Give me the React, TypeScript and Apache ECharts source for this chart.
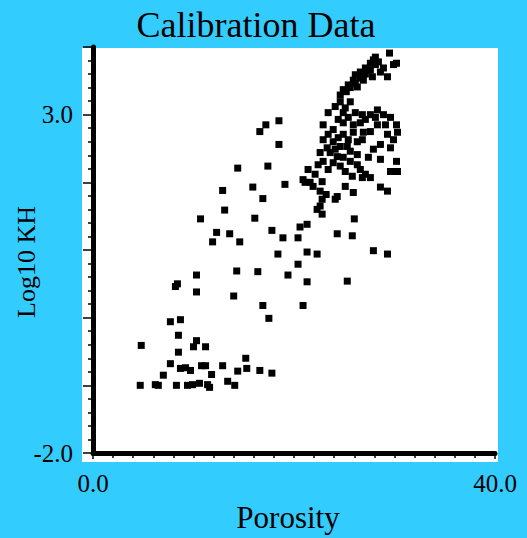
import React, { useEffect, useRef } from "react";
import * as echarts from "echarts";

const titleText = "Calibration Data";
const xAxisName = "Porosity";
const yAxisName = "Log10 KH";
const xLabels = ["0.0", "40.0"];
const yLabels = ["-2.0", "3.0"];

// [porosity, log10 KH]
const lowCluster: number[][] = [
  [4.7, -1.0], [4.8, -0.41], [6.2, -0.99], [6.5, -1.0], [7.0, -0.85], [7.7, -0.68],
  [7.7, -0.06], [8.7, -0.03], [8.3, -1.0], [8.5, -0.26], [8.5, -0.51], [8.7, -0.75],
  [9.2, -0.74], [9.7, -0.78], [9.4, -1.0], [9.9, -0.99], [10.6, -0.97], [11.4, -0.99],
  [11.6, -1.03], [10.8, -0.71], [11.2, -0.71], [11.8, -0.84], [12.9, -0.71], [10.3, -0.34],
  [10.0, -0.43], [11.2, -0.43], [13.4, -0.94], [14.1, -1.0], [14.4, -0.79], [15.3, -0.75],
  [15.2, -0.6], [16.6, -0.78], [17.8, -0.82],
];

const midScatter: number[][] = [
  [8.4, 0.5], [8.2, 0.46], [10.3, 0.38], [10.3, 0.63], [14.0, 0.32], [14.3, 0.69],
  [16.4, 0.68], [16.9, 0.18], [17.5, -0.01], [20.9, 0.18], [19.4, 0.63], [21.3, 0.53],
  [20.4, 0.79], [18.4, 0.94], [21.3, 0.97], [22.3, 0.94], [25.3, 0.54], [27.9, 0.99],
  [29.3, 0.94], [24.3, 1.24], [25.8, 1.21], [26.0, 1.46], [20.6, 1.34], [20.4, 1.18],
  [21.3, 1.38], [18.9, 1.18], [17.8, 1.29], [14.6, 1.12], [13.6, 1.24], [12.3, 1.26],
  [11.9, 1.12], [10.7, 1.46], [16.1, 1.47], [13.1, 1.59], [12.9, 1.88], [15.9, 1.93],
  [16.9, 1.76], [19.1, 1.97], [14.4, 2.21], [17.4, 2.24], [18.5, 2.56], [18.5, 2.91],
  [17.2, 2.85], [16.6, 2.75],
];

const denseCluster: number[][] = [
  [21.4, 2.19], [21.1, 2.0], [20.9, 2.04], [21.6, 2.0], [21.9, 1.94], [22.8, 2.01],
  [22.6, 1.87], [22.8, 1.75], [22.6, 1.65], [22.3, 1.6], [22.8, 1.53], [24.3, 1.79],
  [24.1, 1.75], [25.1, 1.94], [25.9, 1.85], [28.6, 1.93], [29.3, 1.87], [29.6, 2.16],
  [30.3, 2.16], [30.2, 2.31], [26.6, 2.19], [27.1, 2.12], [27.6, 2.07], [26.8, 2.07],
  [27.4, 2.37], [28.6, 2.34], [27.9, 2.49], [28.6, 2.56], [29.6, 2.51], [30.3, 2.74],
  [29.9, 2.63], [30.2, 2.85], [29.1, 2.85], [28.3, 2.85], [28.9, 3.0], [27.6, 3.0],
  [26.8, 3.0], [26.1, 3.03], [24.9, 3.03], [23.4, 3.03], [22.9, 2.85], [24.9, 2.88],
  [25.9, 2.85], [26.6, 2.88], [23.9, 2.78], [24.9, 2.71], [25.9, 2.74], [26.9, 2.74],
  [27.6, 2.75], [22.9, 2.63], [23.9, 2.6], [24.6, 2.53], [25.3, 2.53], [26.3, 2.6],
  [22.6, 2.44], [23.6, 2.44], [24.3, 2.38], [24.9, 2.37], [25.6, 2.31], [22.9, 2.31],
  [23.9, 2.29], [24.6, 2.24], [26.3, 2.26], [24.6, 3.19], [25.6, 3.19],
  [24.4, 2.93], [25.4, 2.96], [27.1, 2.93], [28.1, 2.96], [23.4, 2.71], [24.4, 2.66],
  [25.4, 2.63], [26.8, 2.63], [23.3, 2.51], [24.1, 2.49], [25.6, 2.46], [26.3, 2.41],
  [23.4, 2.19], [25.1, 2.16], [25.8, 2.09], [22.4, 2.26], [22.1, 2.12], [28.3, 3.07],
  [29.6, 2.96], [29.3, 2.71], [24.1, 3.12], [25.1, 3.1], [23.2, 1.82],
];

const topCluster: number[][] = [
  [29.5, 3.91], [30.2, 3.76], [29.9, 3.74], [28.1, 3.85], [27.6, 3.76], [27.1, 3.69],
  [26.6, 3.63], [26.1, 3.59], [25.9, 3.51], [25.4, 3.44], [24.9, 3.37], [28.6, 3.63],
  [29.3, 3.56], [27.8, 3.56], [26.9, 3.51], [26.3, 3.41], [27.4, 3.66], [28.1, 3.74],
  [25.6, 3.4], [26.1, 3.47], [26.6, 3.54], [27.1, 3.6], [27.6, 3.66], [27.9, 3.81],
  [28.4, 3.78], [28.9, 3.69], [25.2, 3.34], [24.6, 3.29],
];

const allPoints = [...lowCluster, ...midScatter, ...denseCluster, ...topCluster];

const SERIF = '"Liberation Serif", "Times New Roman", serif';

export default function App() {
  const ref = useRef<HTMLDivElement>(null);
  useEffect(() => {
    document.body.style.margin = "0";
    if (!ref.current) return;
    const chart = echarts.init(ref.current, undefined, { renderer: "svg" });
    chart.setOption({
      animation: false,
      backgroundColor: "#33ccff",
      grid: { left: 93, right: 32, top: 47, bottom: 85, containLabel: false },
      xAxis: {
        type: "value",
        min: 0,
        max: 40,
        interval: 40,
        splitLine: { show: false },
        axisLine: { show: true, onZero: false, lineStyle: { color: "#000", width: 5 } },
        axisTick: { show: true, length: 6, lineStyle: { color: "#000", width: 1.5 } },
        minorTick: { show: true, splitNumber: 20, length: 5, lineStyle: { color: "#000", width: 1.5 } },
        axisLabel: {
          margin: 18,
          fontFamily: SERIF,
          fontSize: 25,
          color: "#000",
          formatter: (v: number) => (v === 0 ? xLabels[0] : v === 40 ? xLabels[1] : ""),
        },
      },
      yAxis: {
        type: "value",
        min: -2,
        max: 4,
        interval: 1,
        splitLine: { show: false },
        axisLine: { show: true, onZero: false, lineStyle: { color: "#000", width: 5 } },
        axisTick: { show: true, length: 10, lineStyle: { color: "#000", width: 1.5 } },
        minorTick: { show: true, splitNumber: 5, length: 5, lineStyle: { color: "#000", width: 1.5 } },
        axisLabel: {
          margin: 20,
          fontFamily: SERIF,
          fontSize: 25,
          color: "#000",
          formatter: (v: number) => (v === -2 ? yLabels[0] : v === 3 ? yLabels[1] : ""),
        },
      },
      graphic: {
        elements: [
          {
            type: "rect",
            z: -10,
            shape: { x: 82, y: 48, width: 416, height: 414 },
            style: { fill: "#ffffff" },
            silent: true,
          },
          {
            type: "text",
            x: 256,
            y: 25,
            style: {
              text: titleText,
              font: `36px ${SERIF}`,
              fill: "#000",
              textAlign: "center",
              textVerticalAlign: "middle",
            },
          },
          {
            type: "text",
            x: 288,
            y: 517,
            style: {
              text: xAxisName,
              font: `31px ${SERIF}`,
              fill: "#000",
              textAlign: "center",
              textVerticalAlign: "middle",
            },
          },
          {
            type: "text",
            x: 26,
            y: 262,
            rotation: Math.PI / 2,
            style: {
              text: yAxisName,
              font: `26px ${SERIF}`,
              fill: "#000",
              textAlign: "center",
              textVerticalAlign: "middle",
            },
          },
        ],
      },
      series: [
        {
          type: "scatter",
          data: allPoints,
          symbol: "rect",
          symbolSize: 7,
          itemStyle: { color: "#000", opacity: 1 },
        },
      ],
    });
    return () => chart.dispose();
  }, []);
  return <div ref={ref} style={{ width: 527, height: 538 }} />;
}
